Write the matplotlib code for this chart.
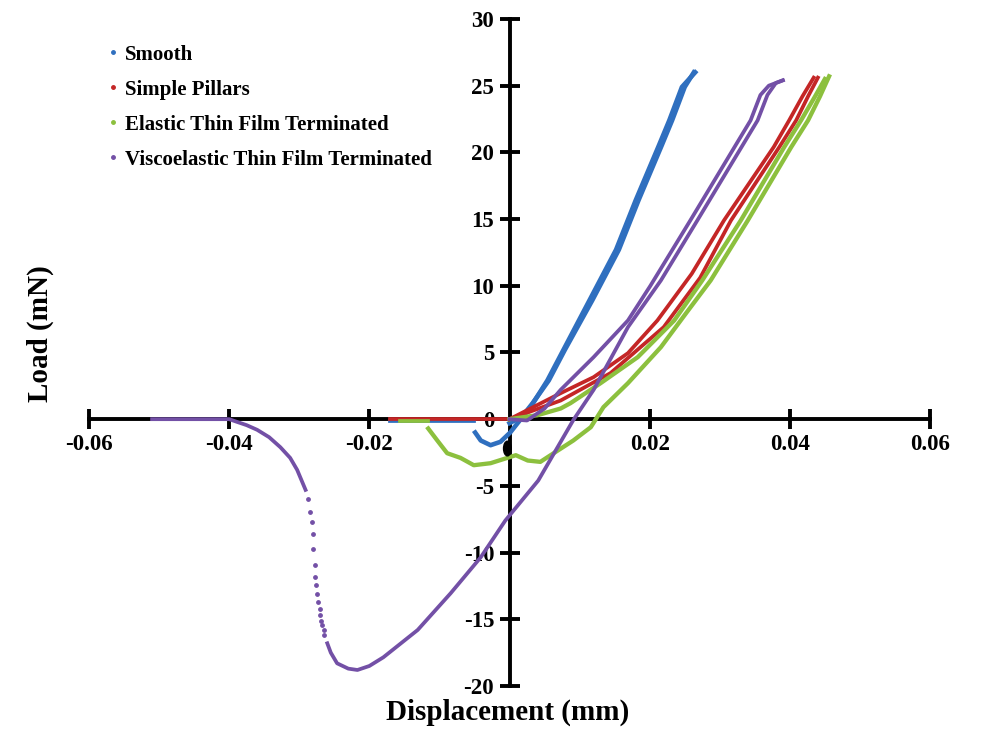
import matplotlib
matplotlib.use('Agg')
import matplotlib.pyplot as plt
from matplotlib.lines import Line2D
from matplotlib.patches import Ellipse

plt.rcParams['font.family'] = ['Liberation Serif', 'DejaVu Serif']
plt.rcParams['font.weight'] = 'bold'
plt.rcParams['axes.unicode_minus'] = False

# colours (Excel style)
c_blue = '#2f6fbf'
c_red = '#c42626'
c_green = '#8cc03e'
c_purple = '#7350a6'

labels = ['Smooth', 'Simple Pillars', 'Elastic Thin Film Terminated',
          'Viscoelastic Thin Film Terminated']

# Smooth
blue_flat_x = [-0.0170, -0.0050]
blue_flat_y = [-0.15, -0.15]
blue_load_x = [0.0000, 0.0018, 0.0033, 0.0056, 0.0079, 0.0118, 0.0156, 0.0184, 0.0217, 0.0232, 0.0250, 0.0263]
blue_load_y = [-0.3, 0.2, 1.2, 2.9, 5.2, 8.9, 12.7, 16.4, 20.5, 22.4, 24.9, 26.0]
blue_unload_x = [0.0265, 0.0246, 0.0228, 0.0213, 0.0180, 0.0152, 0.0114, 0.0077, 0.0054, 0.0030, 0.0016,
                 0.0001, -0.0013, -0.0027, -0.0041, -0.0049]
blue_unload_y = [26.0, 24.9, 22.4, 20.5, 16.4, 12.7, 8.9, 5.2, 2.9, 0.9, 0.0,
                 -1.0, -1.7, -1.95, -1.6, -1.0]

# Simple pillars
red_flat_x = [-0.0170, 0.0000]
red_flat_y = [0.0, 0.0]
red_a_x = [0.0000, 0.0073, 0.0120, 0.0169, 0.0211, 0.0260, 0.0306, 0.0377, 0.0399, 0.0418, 0.0434]
red_a_y = [0.0, 1.95, 3.15, 4.95, 7.4, 10.9, 14.9, 20.4, 22.4, 24.2, 25.6]
red_b_x = [0.0000, 0.0073, 0.0144, 0.0220, 0.0272, 0.0316, 0.0385, 0.0409, 0.0426, 0.0440]
red_b_y = [0.0, 1.4, 3.45, 6.9, 10.6, 14.9, 20.4, 22.4, 24.2, 25.6]

# Elastic thin film terminated
green_flat_x = [-0.0156, -0.0117]
green_flat_y = [-0.15, -0.15]
green_load_x = [0.0000, 0.0040, 0.0073, 0.0087, 0.0130, 0.0183, 0.0235, 0.0275, 0.0330, 0.0392, 0.0416, 0.0436, 0.0450]
green_load_y = [0.0, 0.3, 0.8, 1.2, 2.7, 4.65, 7.4, 10.4, 14.9, 20.4, 22.4, 24.2, 25.5]
green_unload_x = [0.0456, 0.0443, 0.0426, 0.0402, 0.0340, 0.0287, 0.0252, 0.0216, 0.0169, 0.0134, 0.0116,
                  0.0091, 0.0063, 0.0044, 0.0026, 0.0009, -0.0003, -0.0027, -0.0051, -0.0070, -0.0089,
                  -0.0103, -0.0116]
green_unload_y = [25.7, 24.2, 22.4, 20.4, 14.9, 10.4, 7.95, 5.4, 2.7, 0.9, -0.6,
                  -1.6, -2.55, -3.2, -3.1, -2.7, -2.9, -3.3, -3.45, -2.9, -2.55,
                  -1.6, -0.7]

# Viscoelastic thin film terminated
purple_snap_x = [-0.0510, -0.0400, -0.0389, -0.0375, -0.0360, -0.0343, -0.0327, -0.0313, -0.0303, -0.0291]
purple_snap_y = [0.0, 0.0, -0.2, -0.45, -0.8, -1.35, -2.1, -2.9, -3.8, -5.3]
purple_dots_x = [-0.0288, -0.0284, -0.0282, -0.0280, -0.0280, -0.0278, -0.0277, -0.0276, -0.0275,
                 -0.0273, -0.0271, -0.0270, -0.0269, -0.0267, -0.0265, -0.0264]
purple_dots_y = [-5.95, -6.95, -7.7, -8.6, -9.7, -10.95, -11.8, -12.45, -13.1,
                 -13.7, -14.2, -14.7, -15.1, -15.45, -15.8, -16.2]
purple_unload_x = [-0.0260, -0.0255, -0.0246, -0.0230, -0.0217, -0.0200, -0.0180, -0.0131, -0.0084, -0.0041,
                   -0.0006, 0.0041, 0.0091, 0.0120, 0.0169, 0.0216, 0.0268, 0.0354, 0.0368, 0.0380, 0.0390]
purple_unload_y = [-16.8, -17.5, -18.3, -18.7, -18.8, -18.5, -17.85, -15.8, -13.05, -10.35,
                   -7.6, -4.6, -0.07, 2.2, 6.9, 10.4, 14.9, 22.4, 24.3, 25.2, 25.4]
purple_load_x = [0.0000, 0.0025, 0.0050, 0.0073, 0.0120, 0.0169, 0.0201, 0.0258, 0.0344, 0.0358, 0.0370, 0.0390]
purple_load_y = [0.0, -0.1, 0.8, 2.2, 4.65, 7.4, 10.0, 14.9, 22.4, 24.3, 25.0, 25.4]

xticks = [-0.06, -0.04, -0.02, 0.02, 0.04, 0.06]
xtick_labels = ['-0.06', '-0.04', '-0.02', '0.02', '0.04', '0.06']
yticks = [-20, -15, -10, -5, 0, 5, 10, 15, 20, 25, 30]

fig = plt.figure(figsize=(10.01, 7.29), dpi=100)
ax = fig.add_axes([0.0889, 0.059, 0.8402, 0.915])

lw = 2.7
ax.plot(blue_flat_x, blue_flat_y, color=c_blue, lw=lw)
ax.plot(red_flat_x, red_flat_y, color=c_red, lw=lw)
ax.plot(green_flat_x, green_flat_y, color=c_green, lw=lw)
ax.plot(blue_load_x, blue_load_y, color=c_blue, lw=lw + 0.6)
ax.plot(blue_unload_x, blue_unload_y, color=c_blue, lw=lw + 0.6)
ax.plot(red_a_x, red_a_y, color=c_red, lw=lw)
ax.plot(red_b_x, red_b_y, color=c_red, lw=lw)
ax.plot(green_load_x, green_load_y, color=c_green, lw=lw + 0.4)
ax.plot(green_unload_x, green_unload_y, color=c_green, lw=lw + 0.4)
ax.plot(purple_snap_x, purple_snap_y, color=c_purple, lw=lw)
ax.scatter(purple_dots_x, purple_dots_y, color=c_purple, s=6, zorder=3)
ax.plot(purple_unload_x, purple_unload_y, color=c_purple, lw=lw)
ax.plot(purple_load_x, purple_load_y, color=c_purple, lw=lw)

ax.add_patch(Ellipse((-0.0003, -2.2), 0.0011, 1.1, color='black', zorder=5))

ax.set_xlim(-0.06, 0.06)
ax.set_ylim(-20, 30)
ax.spines['left'].set_position(('data', 0))
ax.spines['bottom'].set_position(('data', 0))
ax.spines['right'].set_visible(False)
ax.spines['top'].set_visible(False)
for s in ['left', 'bottom']:
    ax.spines[s].set_linewidth(2.8)
    ax.spines[s].set_zorder(1)
ax.set_xticks(xticks)
ax.set_xticklabels(xtick_labels)
ax.set_yticks(yticks)
ax.tick_params(direction='inout', length=14, width=2.8, labelsize=16.5, pad=4)
for t in ax.get_xticklabels() + ax.get_yticklabels():
    t.set_fontweight('bold')

fig.text(0.040, 0.543, 'Load (mN)', rotation=90, ha='center', va='center',
         fontsize=21, fontweight='bold')
fig.text(0.507, 0.023, 'Displacement (mm)', ha='center', va='center',
         fontsize=21, fontweight='bold')

handles = [Line2D([], [], ls='none', marker='o', ms=2.5, color=c) for c in [c_blue, c_red, c_green, c_purple]]
leg = ax.legend(handles, labels, loc='upper left', bbox_to_anchor=(0.099, 0.953),
                bbox_transform=fig.transFigure, frameon=False, handlelength=0.3,
                handletextpad=0.45, labelspacing=0.72, borderpad=0,
                prop={'size': 15, 'weight': 'bold'})

plt.savefig('out.png', dpi=100)
